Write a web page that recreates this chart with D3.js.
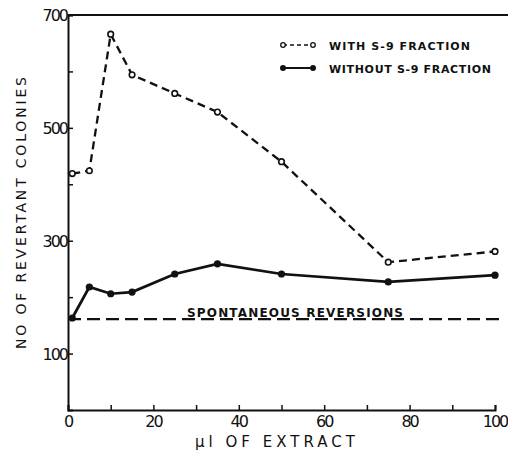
<!DOCTYPE html>
<html>
<head>
<meta charset="utf-8">
<script src="https://cdn.jsdelivr.net/npm/d3@7.9.0/dist/d3.min.js"></script>
<style>
  body { margin: 0; background: #fff; }
  svg { display: block; }
  text { fill: #111; }
</style>
</head>
<body>
<svg width="508" height="458"></svg>
<script>
// data
const extract = [1, 5, 10, 15, 25, 35, 50, 75, 100];
const withS9 = [419, 424, 666, 594, 561, 528, 440, 262, 281];
const withoutS9 = [163, 218, 206, 209, 241, 259, 241, 227, 239];
const spontaneous = 161;
const xTicks = [0, 20, 40, 60, 80, 100];
const yTicks = [100, 300, 500, 700];

const svg = d3.select("svg");
const x = d3.scaleLinear().domain([0, 100]).range([68, 495]);
const y = d3.scaleLinear().domain([0, 700]).range([410, 15]);

// axes
let xAxis = svg.append("g").attr("transform", "translate(0,410)")
  .call(d3.axisBottom(x).tickValues(d3.range(0, 101, 10)).tickSize(-5).tickFormat(""));
xAxis.select(".domain").attr("stroke", "#111").attr("stroke-width", 2);
xAxis.selectAll(".tick line").attr("stroke", "#111").attr("stroke-width", 1.5);

let yAxis = svg.append("g").attr("transform", "translate(68,0)")
  .call(d3.axisLeft(y).tickValues(d3.range(100, 701, 100)).tickSize(-5).tickFormat(""));
yAxis.select(".domain").attr("stroke", "#111").attr("stroke-width", 2);
yAxis.selectAll(".tick line").attr("stroke", "#111").attr("stroke-width", 1.5);

// top frame line
svg.append("line")
  .attr("x1", x(0)).attr("x2", 508)
  .attr("y1", y(700)).attr("y2", y(700))
  .attr("stroke", "#111").attr("stroke-width", 2);

// tick labels
svg.selectAll(".xl").data(xTicks).enter().append("text")
  .attr("x", d => x(d)).attr("y", 427)
  .attr("text-anchor", "middle")
  .attr("font-family", "DejaVu Sans").attr("font-size", 16)
  .attr("letter-spacing", -2)
  .text(d => d);

svg.selectAll(".yl").data(yTicks).enter().append("text")
  .attr("x", 67).attr("y", d => y(d) + 6)
  .attr("text-anchor", "end")
  .attr("font-family", "DejaVu Sans").attr("font-size", 16)
  .attr("letter-spacing", -2)
  .text(d => d);

// axis titles
svg.append("text")
  .attr("transform", "translate(26,213) rotate(-90)")
  .attr("text-anchor", "middle")
  .attr("font-family", "DejaVu Sans").attr("font-size", 14)
  .attr("textLength", 272).attr("lengthAdjust", "spacing")
  .text("NO  OF  REVERTANT  COLONIES");

svg.append("text")
  .attr("x", 195).attr("y", 447)
  .attr("font-family", "DejaVu Sans").attr("font-size", 15)
  .attr("textLength", 160).attr("lengthAdjust", "spacing")
  .text("μl  OF  EXTRACT");

// spontaneous reversions
svg.append("line")
  .attr("x1", x(0)).attr("x2", 502)
  .attr("y1", y(spontaneous)).attr("y2", y(spontaneous))
  .attr("stroke", "#111").attr("stroke-width", 2.2)
  .attr("stroke-dasharray", "13,6");

svg.append("text")
  .attr("x", 187).attr("y", y(spontaneous) - 2)
  .attr("font-family", "DejaVu Sans").attr("font-weight", "bold").attr("font-size", 12)
  .attr("textLength", 216).attr("lengthAdjust", "spacing")
  .text("SPONTANEOUS  REVERSIONS");

// series
let line = d3.line().x((d, i) => x(extract[i])).y(d => y(d));

svg.append("path").datum(withS9)
  .attr("d", line).attr("fill", "none")
  .attr("stroke", "#111").attr("stroke-width", 2.3)
  .attr("stroke-dasharray", "8,5");

svg.append("path").datum(withoutS9)
  .attr("d", line).attr("fill", "none")
  .attr("stroke", "#111").attr("stroke-width", 2.7);

svg.selectAll(".open").data(withS9).enter().append("circle")
  .attr("cx", (d, i) => x(extract[i])).attr("cy", d => y(d))
  .attr("r", 2.8).attr("fill", "#fff")
  .attr("stroke", "#111").attr("stroke-width", 1.6);

svg.selectAll(".filled").data(withoutS9).enter().append("circle")
  .attr("cx", (d, i) => x(extract[i])).attr("cy", d => y(d))
  .attr("r", 3.6).attr("fill", "#111");

// legend
let legendRows = [
  { label: "WITH  S-9  FRACTION", dash: "4,3", open: true, yPos: 45 },
  { label: "WITHOUT  S-9  FRACTION", dash: null, open: false, yPos: 68 }
];
legendRows.forEach(r => {
  svg.append("line")
    .attr("x1", 283).attr("x2", 313).attr("y1", r.yPos).attr("y2", r.yPos)
    .attr("stroke", "#111").attr("stroke-width", r.open ? 1.5 : 2)
    .attr("stroke-dasharray", r.dash);
  [283, 313].forEach(cx => {
    svg.append("circle").attr("cx", cx).attr("cy", r.yPos)
      .attr("r", r.open ? 2.3 : 3)
      .attr("fill", r.open ? "#fff" : "#111")
      .attr("stroke", "#111").attr("stroke-width", r.open ? 1.3 : 0);
  });
  svg.append("text")
    .attr("x", 329).attr("y", r.yPos + 4.5)
    .attr("font-family", "DejaVu Sans").attr("font-weight", "bold").attr("font-size", 11)
    .attr("textLength", r.open ? 141 : 162).attr("lengthAdjust", "spacing")
    .text(r.label);
});
</script>
</body>
</html>
